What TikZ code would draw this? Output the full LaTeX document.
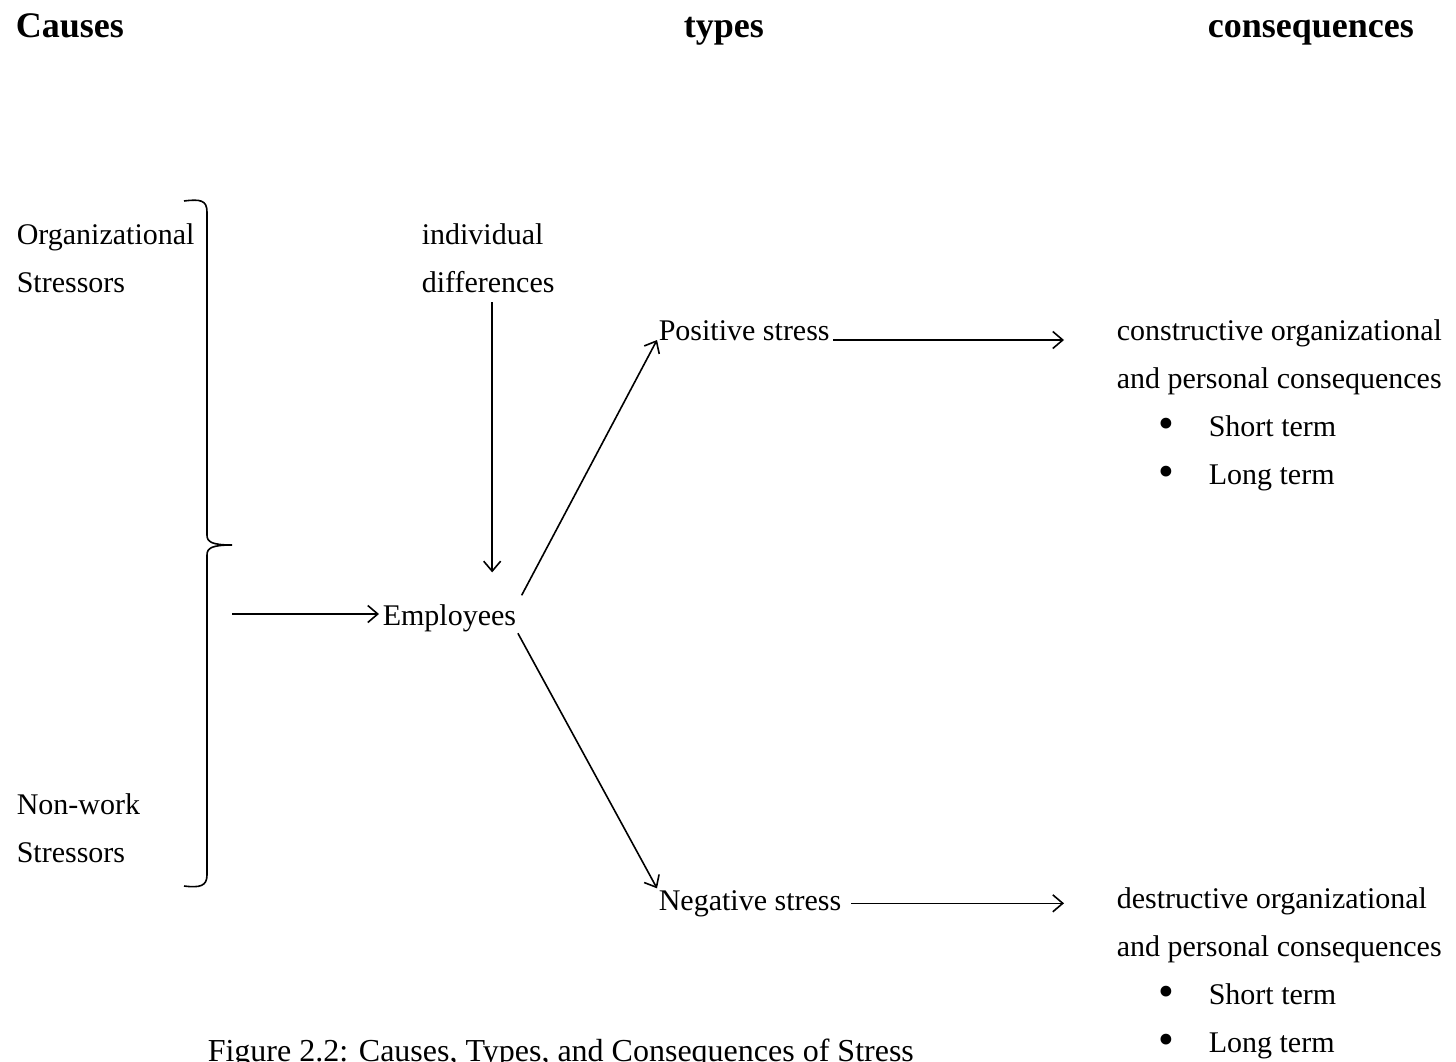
\documentclass[tikz,border=0pt]{standalone}
\usepackage{fontspec}
\setmainfont{Liberation Serif}
\usetikzlibrary{arrows.meta,positioning}
\newcommand{\blt}{\hspace*{42pt}\makebox[50pt][l]{\raisebox{-2.5pt}{\scalebox{1.5}{\textbullet}}}}

\begin{document}
\begin{tikzpicture}[x=1pt,y=-1pt,line width=1.6pt,>={Straight Barb[length=10pt,width=17pt]},
  txt/.style={font=\fontsize{30}{48}\selectfont,inner sep=1pt,align=left,anchor=base west},
  head/.style={font=\fontsize{36}{40}\selectfont\bfseries,inner sep=0pt,anchor=base west}]
\useasboundingbox (0,0) rectangle (1456,1062);
% headings
\node[head] (causes) at (15,38) {Causes};
\node[head] (types) at (683,38) {types};
\node[head] (conseq) at (1207,38) {consequences};
% causes and the brace
\node[txt] (org) at (15,292) {Organizational\\Stressors};
\node[txt] (nonwork) at (15,862) {Non-work\\Stressors};
\draw (184,201) .. controls (200,199) and (207,200) .. (207,212) -- (207,535)
  .. controls (207,542) and (212,545) .. (232,545)
  .. controls (212,545) and (207,548) .. (207,555) -- (207,875)
  .. controls (207,886) and (200,888) .. (184,886);
\coordinate (bout) at (232,614);
% middle column
\node[txt] (indiv) at (420,292) {individual\\differences};
\node[txt] (emp) at (381,625) {Employees};
\node[txt] (pos) at (657,340) {Positive stress};
\node[txt] (neg) at (657,910) {Negative stress};
% consequences
\node[txt] (cons) at (1115,484) {constructive organizational\\and personal consequences\\
  \blt Short term\\ \blt Long term};
\node[txt] (dest) at (1115,1052) {destructive organizational\\and personal consequences\\
  \blt Short term\\ \blt Long term};
\node[font=\fontsize{32}{38}\selectfont,inner sep=0pt,anchor=base west] (caption) at (207,1061)
  {Figure 2.2: Causes, Types, and Consequences of Stress};
% arrows
\draw[->,shorten >=2pt] (bout) -- (bout -| emp.west);
\draw[->,shorten <=8pt,shorten >=30pt] ([xshift=4pt]indiv.south) -- ([xshift=4pt]indiv.south |- emp.north);
\draw[->,shorten <=8pt] (emp.north east) -- (pos.base west);
\draw[->] (emp.south east) -- (neg.north west);
\draw[->,shorten <=2pt,shorten >=51pt] (pos.base east) -- (pos.base east -| cons.west);
\draw[->,shorten <=8pt,shorten >=51pt] (neg.east) -- (neg.east -| dest.west);
\end{tikzpicture}
\end{document}
